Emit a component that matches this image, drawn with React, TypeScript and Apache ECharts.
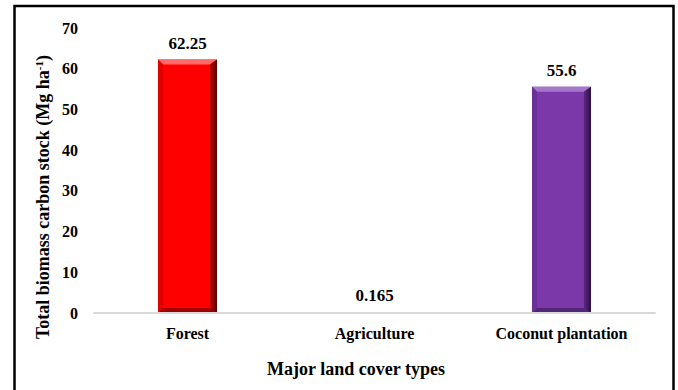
import React, { useEffect, useRef } from "react";
import * as echarts from "echarts";

const categories = ["Forest", "Agriculture", "Coconut plantation"];
const stockValues = [62.25, 0.165, 55.6];
const yTicks = { min: 0, max: 70, interval: 10 };

// face, top bevel, right edge (light→dark), bottom bevel, left bevel
const faceColors = ["#ff0000", "#00a050", "#7a38a8"];
const topColors = ["#ff6a6a", "#40c080", "#a476cc"];
const rightLight = ["#c80000", "#008040", "#5a2a82"];
const rightDark = ["#4a0000", "#003018", "#2a0f40"];
const bottomColors = ["#a00000", "#007038", "#54267a"];
const leftColors = ["#e00000", "#009048", "#6c309a"];

const SERIF = "Liberation Serif, serif";
const BAR_RATIO = 0.315;

export default function App() {
  const ref = useRef<HTMLDivElement>(null);

  useEffect(() => {
    if (!ref.current) return;
    const chart = echarts.init(ref.current, undefined, { renderer: "svg" });

    const option: any = {
      animation: false,
      backgroundColor: "#ffffff",
      textStyle: { fontFamily: SERIF },
      grid: { left: 94, right: 23, top: 28, bottom: 77, containLabel: false },
      xAxis: {
        type: "category",
        data: categories,
        z: 5,
        axisLine: { show: true, lineStyle: { color: "#d9d9d9", width: 2 } },
        axisTick: { show: false },
        axisLabel: {
          color: "#000",
          fontFamily: SERIF,
          fontWeight: "bold",
          fontSize: 16,
          margin: 12,
        },
      },
      yAxis: {
        type: "value",
        min: yTicks.min,
        max: yTicks.max,
        interval: yTicks.interval,
        axisLine: { show: false },
        axisTick: { show: false },
        splitLine: { show: false },
        axisLabel: {
          color: "#000",
          fontFamily: SERIF,
          fontWeight: "bold",
          fontSize: 16,
          margin: 16,
        },
      },
      series: [
        {
          type: "bar",
          barWidth: BAR_RATIO * 100 + "%",
          data: stockValues.map((v, i) => ({
            value: v,
            itemStyle: { color: faceColors[i] },
          })),
          label: {
            show: true,
            position: "top",
            distance: 8,
            color: "#000",
            fontFamily: SERIF,
            fontWeight: "bold",
            fontSize: 17,
            formatter: "{c}",
          },
          z: 2,
        },
        {
          // bevelled edges drawn over each bar
          type: "custom",
          silent: true,
          z: 3,
          data: stockValues.map((v, i) => [i, v]),
          renderItem: (params: any, api: any) => {
            const i = params.dataIndex;
            const top = api.coord([api.value(0), api.value(1)]);
            const base = api.coord([api.value(0), 0]);
            const band = api.size([1, 0])[0];
            const w = band * BAR_RATIO;
            const l = top[0] - w / 2;
            const r = top[0] + w / 2;
            const t = top[1];
            const b = base[1];
            const h = b - t;
            if (h < 6) return null;
            const e = 5;
            const er = 7;
            return {
              type: "group",
              children: [
                {
                  type: "polygon",
                  shape: { points: [[l, t], [r, t], [r - er, t + e], [l + e, t + e]] },
                  style: { fill: topColors[i] },
                },
                {
                  type: "polygon",
                  shape: { points: [[l, t], [l + e, t + e], [l + e, b - e], [l, b]] },
                  style: { fill: leftColors[i] },
                },
                {
                  type: "polygon",
                  shape: { points: [[l, b], [r, b], [r - er, b - e], [l + e, b - e]] },
                  style: { fill: bottomColors[i] },
                },
                {
                  type: "polygon",
                  shape: { points: [[r, t], [r, b], [r - er, b - e], [r - er, t + e]] },
                  style: {
                    fill: new echarts.graphic.LinearGradient(0, 0, 1, 0, [
                      { offset: 0, color: rightLight[i] },
                      { offset: 1, color: rightDark[i] },
                    ]),
                  },
                },
              ],
            };
          },
        },
      ],
      graphic: [
        {
          type: "rect",
          z: 100,
          silent: true,
          shape: { x: 14.5, y: 6, width: 659, height: 420 },
          style: { fill: "none", stroke: "#000", lineWidth: 2.5 },
        },
        {
          type: "text",
          x: 43,
          y: 197,
          rotation: Math.PI / 2,
          style: {
            text: "{t|Total biomass carbon stock (Mg ha}{s|-1}{t|)}",
            align: "center",
            verticalAlign: "middle",
            rich: {
              t: { fontFamily: SERIF, fontWeight: "bold", fontSize: 18, fill: "#000" },
              s: {
                fontFamily: SERIF,
                fontWeight: "bold",
                fontSize: 11,
                fill: "#000",
                verticalAlign: "top",
                padding: [0, 0, 8, 0],
              },
            },
          },
        },
        {
          type: "text",
          x: 356,
          y: 369,
          style: {
            text: "Major land cover types",
            align: "center",
            verticalAlign: "middle",
            fontFamily: SERIF,
            fontWeight: "bold",
            fontSize: 18,
            fill: "#000",
          },
        },
      ],
    };

    chart.setOption(option);
    return () => chart.dispose();
  }, []);

  return (
    <div
      ref={ref}
      style={{ position: "absolute", left: 0, top: 0, width: 678, height: 390 }}
    />
  );
}
